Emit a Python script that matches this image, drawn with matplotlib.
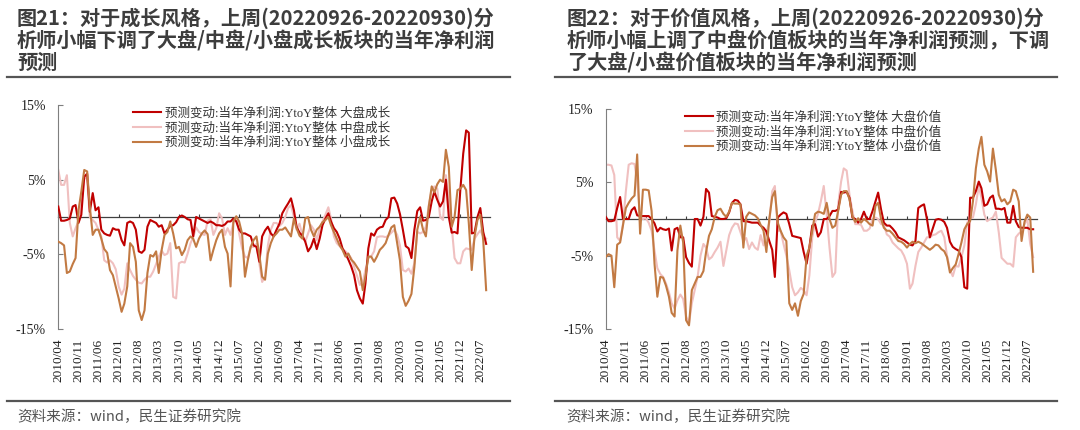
"""Analyst forecast revisions by style: growth vs value, large/mid/small cap."""
import matplotlib
matplotlib.use("Agg")
import matplotlib.pyplot as plt
import matplotlib.dates as mdates
from matplotlib.lines import Line2D
import pandas as pd

plt.rcParams["font.family"] = ["Liberation Serif", "Noto Sans CJK SC"]

months = pd.date_range("2010-04-01", periods=150, freq="MS")
tick_dates = pd.date_range("2010-04-01", "2022-07-01", freq="7MS")
tick_labels = [d.strftime("%Y/%m") for d in tick_dates]
y_ticks = [-15, -5, 5, 15]
y_labels = [f"{v}%" for v in y_ticks]

# 预测变动:当年净利润:YtoY整体, %
growth_large = [
    1.4, -0.5, -0.5, -0.4, -0.2, 1.4, 1.6, -0.8, 0.3, 5.4,
    5.8, 0.7, 3.2, 0.9, 1.3, -1.7, -2.2, -2.4, -2.5, -1.5,
    -1.7, -1.7, -3.1, -3.8, -0.8, -0.6, -0.8, -1.7, -4.6, -4.8,
    -4.4, -1.3, -0.4, -0.6, -0.8, -1.3, -1.1, -2.2, -1.7, -1.2,
    -1.1, -0.7, 0.0, 0.2, 0.0, -0.3, -0.4, -2.6, 0.0, -0.2,
    -0.4, -0.6, -0.8, -0.6, -0.8, -1.1, -1.1, -1.2, -1.0, -0.6,
    -0.6, -0.2, -0.6, -1.7, -2.2, -2.2, -2.4, -2.6, -3.8, -4.0,
    -6.0, -2.6, -1.8, -1.3, -2.2, -2.6, -1.7, -0.9, 0.5, 1.2,
    1.8, 2.5, 0.9, -1.3, -2.1, -2.5, -3.3, -4.6, -4.0, -2.9,
    -4.3, -2.9, -1.1, -0.2, 0.5, -0.6, -1.5, -2.0, -2.9, -4.2,
    -4.9, -5.7, -6.6, -7.8, -9.8, -10.9, -11.6, -8.9, -4.2, -2.2,
    -2.5, -1.7, -1.4, -1.3, -0.4, 0.0, 2.5, 2.6, 1.8, 0.4,
    -1.7, -3.9, -4.2, -5.5, -1.7, 0.8, 1.3, -0.5, -0.4, 0.0,
    2.1, 3.4, 2.3, 1.4, 2.1, 5.0, 0.0, -2.1, -2.0, -2.2,
    3.6, 8.5, 11.6, 11.3, -2.2, -2.1, 0.0, 1.2, -2.0, -3.6,
]
growth_mid = [
    6.3, 4.3, 4.3, 5.6, -0.8, -2.6, -1.5, -0.6, 1.8, 5.5,
    5.0, 0.0, -0.4, -0.8, -1.7, -2.6, -5.8, -6.1, -5.8, -6.2,
    -7.0, -9.3, -10.4, -9.6, -6.2, -7.1, -7.9, -8.4, -8.8, -8.9,
    -8.4, -8.0, -8.0, -7.3, -6.3, -5.3, -4.5, -5.1, -4.9, -3.5,
    -10.7, -10.9, -6.2, -6.0, -6.1, -4.9, -3.5, -2.7, -1.4, -2.0,
    -2.3, -2.4, -0.5, -0.3, -2.4, -1.5, 0.5, -0.2, -2.4, -1.5,
    -2.4, -0.8, 0.0, -2.2, -4.2, -5.3, -5.5, -4.0, -4.0, -3.6,
    -6.2, -8.7, -8.0, -3.8, -1.7, -0.8, -0.8, -1.2, -0.8, 0.0,
    1.2, 1.6, 0.0, -1.7, -0.9, -2.4, -3.3, -2.2, -1.1, -1.7,
    -3.1, -1.5, -0.6, 0.3, 1.3, -0.2, -2.6, -3.5, -3.9, -4.3,
    -4.6, -5.0, -5.5, -6.7, -7.8, -9.1, -8.7, -7.1, -5.5, -5.3,
    -4.6, -2.7, -2.6, -2.6, -2.7, -2.5, -2.1, -1.7, -2.4, -3.8,
    -7.1, -7.3, -6.9, -7.6, -6.2, -2.0, -2.2, -2.0, -1.3, 1.6,
    3.6, 4.1, 3.8, 0.0, -0.4, 5.6, 2.3, -1.3, -5.5, -6.2,
    -6.2, -4.6, -4.2, -4.3, -4.4, -2.9, -2.3, -1.8, -2.6, -2.9,
]
growth_small = [
    -3.3, -3.5, -3.8, -7.5, -7.3, -6.3, -5.5, 0.9, 3.4, 6.3,
    6.1, 1.4, -2.4, -1.7, -1.7, -2.9, -4.3, -4.8, -7.1, -7.8,
    -9.3, -10.9, -12.7, -11.6, -9.3, -3.5, -4.0, -6.0, -12.5, -13.8,
    -12.5, -7.5, -5.1, -5.3, -4.6, -7.5, -4.4, -2.4, -2.0, -0.6,
    -2.2, -4.2, -4.0, -5.1, -4.4, -3.1, -2.6, -2.9, -4.0, -2.9,
    -2.2, -1.8, -2.3, -5.8, -4.4, -3.1, -2.2, -1.7, -4.0, -4.9,
    -9.3, -0.6, 0.1, -0.6, -2.2, -8.0, -5.8, -4.0, -3.1, -2.6,
    -5.1, -8.0, -8.4, -4.9, -3.5, -2.6, -2.2, -1.7, -1.7, -1.4,
    -2.0, -2.6, -0.2, -1.5, -2.5, -2.9, -0.2, 0.0, -1.7, -2.6,
    -1.7, -1.3, -0.7, -0.4, 0.0, -1.1, -2.0, -2.9, -3.8, -4.4,
    -5.3, -4.9, -5.7, -6.1, -6.7, -7.3, -9.8, -8.0, -5.3, -5.3,
    -6.0, -5.3, -4.4, -4.0, -3.5, -2.4, -1.4, -1.1, -3.5, -5.8,
    -10.7, -11.9, -11.2, -10.3, -6.7, -1.7, 0.0, -1.7, -2.6, 1.4,
    4.1, 3.3, 4.4, 5.0, 4.7, 9.0, 6.7, -1.3, 0.0, 3.6,
    3.8, 4.3, 3.6, -0.8, -7.1, -2.6, -0.4, 0.3, -3.1, -9.8,
]
value_large = [
    0.3, -0.3, -0.3, -0.2, 1.5, 3.0, 0.0, 0.0, 0.0, 1.2,
    1.6, 0.5, 0.4, 0.4, 0.4, 0.4, 0.0, -0.6, -1.7, -1.2,
    -1.4, -1.5, -1.3, -4.3, -1.4, -1.2, -2.5, -2.5, -5.2, -6.0,
    -6.5, 0.0, 0.0, -0.9, 0.3, 4.1, 3.6, 0.4, 0.3, 0.2,
    0.0, 0.0, 0.1, 0.9, 2.2, 2.6, 2.5, 2.0, -0.3, -0.3,
    -0.4, -0.5, -0.5, -0.5, -0.9, -1.2, -1.7, -3.0, -4.2, -7.9,
    0.2, 0.6, 0.9, 0.7, -0.7, -2.3, -2.4, -2.5, -2.6, -4.5,
    -6.1, -3.9, -0.9, -0.7, -2.4, -1.8, 0.0, 0.0, 0.4, 1.1,
    1.1, 1.3, 3.7, 3.6, 3.7, 2.9, 0.2, 0.0, -0.5, 0.0,
    1.0, 0.0, 0.0, 1.1, 2.4, 3.6, 1.3, -0.5, -0.9, -0.9,
    -1.3, -1.8, -2.5, -2.7, -2.9, -3.2, -3.5, -3.6, -3.0, 1.5,
    1.8, 2.0, 0.0, -2.5, -1.3, -0.1, 0.0, -0.1, -0.4, -1.2,
    -3.1, -3.8, -4.1, -4.3, -5.2, -9.3, -9.5, 2.9, 2.9, 3.8,
    5.1, 4.2, 1.8, 2.0, 2.9, 3.2, 1.4, 1.4, 1.3, 1.5,
    -0.5, -0.5, 1.8, -0.3, -1.1, -1.2, -1.2, -1.2, -1.4, -1.4,
]
value_mid = [
    7.4, 7.4, 7.3, 6.0, -2.5, -3.0, -0.7, 3.8, 7.4, 7.6,
    7.5, 5.1, 0.2, 0.0, 0.1, -0.5, -1.6, -4.3, -6.7, -7.5,
    -7.9, -8.8, -10.0, -11.5, -12.2, -11.1, -10.3, -10.9, -13.3, -14.2,
    -11.5, -9.7, -7.9, -5.0, -3.4, -3.9, -5.5, -5.2, -4.5, -3.9,
    -3.1, -6.4, -4.3, -2.2, -1.2, -0.6, -0.7, -1.8, -3.0, -2.6,
    -4.1, -3.2, -3.9, -4.2, -2.2, -3.6, -1.8, -0.5, 3.8, 4.5,
    -1.6, -1.6, -3.4, -5.0, -7.0, -9.3, -10.4, -10.0, -9.4, -9.7,
    -10.4, -7.7, -2.5, -0.5, 0.7, 2.4, 4.5, 0.6, -3.9, -7.9,
    -7.3, 2.0, 5.1, 6.9, 6.6, 3.3, 1.1, -0.7, -0.7, -0.8,
    -1.6, -1.6, -1.3, 0.0, 0.2, 0.0, -0.7, -0.8, -2.1, -2.4,
    -3.2, -3.6, -4.0, -4.3, -5.0, -6.1, -9.5, -8.8, -6.4, -4.5,
    -3.9, -3.2, -2.5, -2.5, -2.2, -2.1, -1.8, -1.6, -2.5, -5.0,
    -6.9, -7.8, -6.4, -6.5, -5.2, -3.6, -0.5, 0.1, 0.2, 2.0,
    4.5, 2.9, 0.6, -0.3, 0.0, 0.2, 1.0, -1.8, -5.3, -5.7,
    -6.1, -6.1, -6.5, -2.5, -2.0, -1.7, -0.7, 0.0, -3.4, -5.2,
]
value_small = [
    -5.2, -4.8, -5.0, -9.3, -3.5, -3.2, -0.9, 1.5, 2.2, 2.8,
    3.2, 8.8, -2.0, 4.0, 4.0, 3.9, 1.1, -6.1, -10.6, -7.9,
    -8.0, -9.1, -10.6, -12.8, -13.3, -4.3, -0.9, -3.2, -13.8, -14.5,
    -9.7, -8.8, -7.9, -7.9, -7.1, -4.5, -2.3, -1.4, 0.3, 1.2,
    1.4, 0.7, 0.3, 1.0, 2.2, 2.1, 2.1, 2.0, -3.9, 0.3,
    0.9, 0.7, 0.5, 0.1, -0.8, -1.6, -4.5, 0.0, 3.0, 3.8,
    -0.5, -1.6, -2.5, -3.0, -11.5, -12.4, -11.5, -13.2, -11.2, -10.2,
    -5.0, -3.9, -1.6, 0.7, 1.0, 0.9, 0.7, 2.2, 0.0, -1.2,
    -0.9, 1.1, 3.3, 3.8, 3.8, 2.7, 0.4, -0.4, 0.1, -0.5,
    0.0, -0.3, -0.7, -0.9, 1.8, 2.2, 0.0, -1.2, -1.6, -1.6,
    -2.0, -2.5, -3.0, -3.1, -3.4, -3.9, -3.4, -3.1, -3.3, -3.1,
    -3.3, -3.6, -3.9, -4.2, -3.9, -3.5, -3.6, -4.1, -4.4, -5.2,
    -7.3, -6.7, -6.2, -4.8, -3.2, -1.4, -0.7, -0.3, 2.4, 6.9,
    9.6, 11.2, 7.4, 6.5, 5.1, 9.6, 6.7, 3.3, 2.4, 2.7,
    2.0, 2.4, 4.0, 3.8, 2.4, -3.0, -0.4, 0.6, 0.2, -7.2,
]

prefix = "预测变动:当年净利润:YtoY整体 "
growth_names = [prefix + s for s in ["大盘成长", "中盘成长", "小盘成长"]]
value_names = [prefix + s for s in ["大盘价值", "中盘价值", "小盘价值"]]

left_title = [
    "图21：对于成长风格，上周(20220926-20220930)分",
    "析师小幅下调了大盘/中盘/小盘成长板块的当年净利润",
    "预测",
]
right_title = [
    "图22：对于价值风格，上周(20220926-20220930)分",
    "析师小幅上调了中盘价值板块的当年净利润预测，下调",
    "了大盘/小盘价值板块的当年净利润预测",
]
source = "资料来源：wind，民生证券研究院"

RED = "#C00000"
PINK = "#F0C0C0"
BROWN = "#C27A43"
TEXT = "#3d3d3d"
W, H = 1080, 430


def draw_panel(ax, series, names, legend_x):
    x = mdates.date2num(months)
    for vals, name, color, z in zip(series, names, [RED, PINK, BROWN], [3, 2, 4]):
        ax.plot(x, vals, color=color, lw=1.5, label=name, zorder=z)

    ax.set_xlim(mdates.date2num(pd.Timestamp("2010-04-01")),
                mdates.date2num(pd.Timestamp("2022-10-15")))
    ax.set_ylim(-15, 15)
    ticks = mdates.date2num(tick_dates)
    ax.set_xticks(ticks, tick_labels, rotation=90)
    ax.tick_params(axis="x", length=0, pad=7, labelsize=9.5, labelcolor="#222222")
    ax.set_yticks(y_ticks, y_labels)
    ax.tick_params(axis="y", direction="in", length=3.5, pad=9, labelsize=10,
                   color="#7f7f7f", labelcolor="#222222")
    for side in ["top", "right", "bottom"]:
        ax.spines[side].set_visible(False)
    ax.spines["left"].set_color("#7f7f7f")
    ax.spines["left"].set_linewidth(0.8)

    # zero line carrying the date ticks (a top-aligned axis, ticks point up)
    zero = ax.secondary_xaxis(0.5)
    zero.set_xticks(ticks)
    zero.set_xticklabels([])
    zero.tick_params(direction="out", length=2.5, labeltop=False,
                     labelbottom=False, color="#404040", width=0.8)
    for side in ["top", "bottom"]:
        zero.spines[side].set_color("#404040")
        zero.spines[side].set_linewidth(0.9)

    ax.legend(loc="upper left", bbox_to_anchor=(legend_x, 0.99), frameon=False,
              fontsize=9, handlelength=2.2, handletextpad=0.3, labelspacing=0.2,
              borderpad=0, borderaxespad=0, labelcolor="#333333")


def draw_frame(fig, x0, x1, title_x, title_lines):
    for y in [77.3, 400.7]:
        fig.add_artist(Line2D([x0 / W, x1 / W], [1 - y / H] * 2,
                              color="#555555", lw=1.6))
    for y, line in zip([18.5, 41, 62.5], title_lines):
        fig.text(title_x / W, 1 - y / H, line, fontsize=14.5, fontweight="bold",
                 color=TEXT, va="center", ha="left", family=["Noto Sans CJK SC"])
    fig.text(title_x / W, 1 - 416.5 / H, source, fontsize=10.5, color="#555555",
             va="center", ha="left", family=["Noto Sans CJK SC"])


fig = plt.figure(figsize=(W / 100, H / 100), dpi=100)
ax_left = fig.add_axes([58.3 / W, 1 - 329 / H, 432 / W, 224 / H])
ax_right = fig.add_axes([605.7 / W, 1 - 329 / H, 431.6 / W, 220 / H])

draw_panel(ax_left, [growth_large, growth_mid, growth_small], growth_names, 0.174)
draw_panel(ax_right, [value_large, value_mid, value_small], value_names, 0.184)
draw_frame(fig, 7, 510, 17, left_title)
draw_frame(fig, 555, 1057, 566.7, right_title)

fig.savefig("out.png", dpi=100)
plt.close(fig)
